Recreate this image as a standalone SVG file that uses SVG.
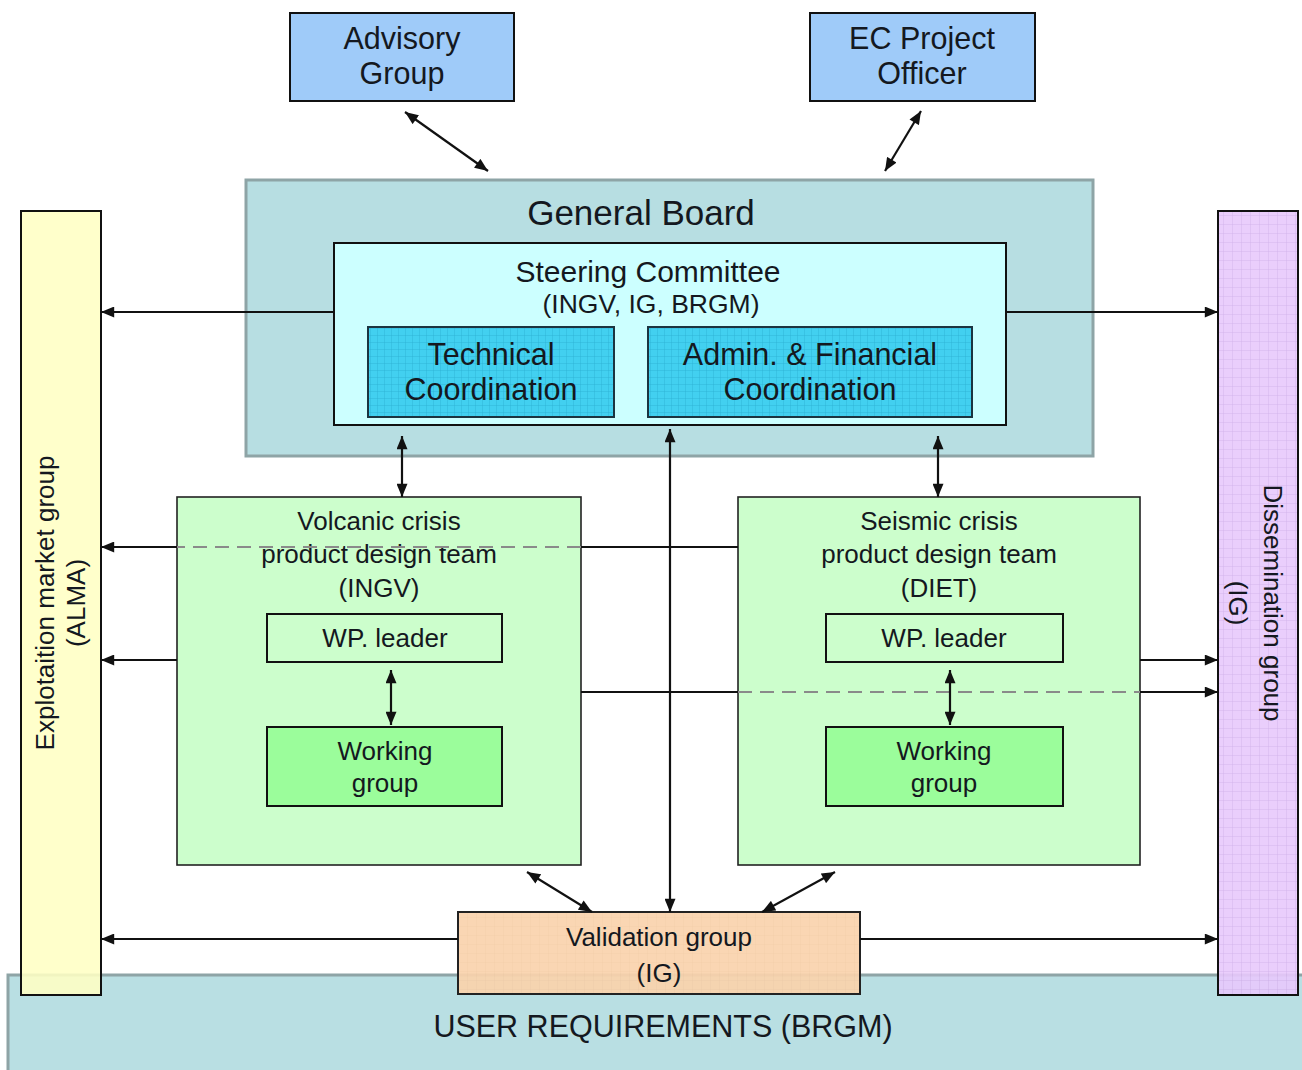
<svg xmlns="http://www.w3.org/2000/svg" width="1302" height="1070" viewBox="0 0 1302 1070">
<style>
text{font-family:"Liberation Sans",Arial,sans-serif;fill:#141820;text-anchor:middle}
.blk{stroke:#111;stroke-width:2}
.thin{stroke:#222;stroke-width:1.6}
.con{stroke:#111;stroke-width:2.2;fill:none}
.dash{stroke:#8a8a8a;stroke-width:2.2;stroke-dasharray:14 8;fill:none}
.t30{font-size:30.5px}.t26{font-size:26px}.t29{font-size:30px}
</style>
<defs>
<marker id="ah" viewBox="0 0 12 10" refX="12" refY="5" markerWidth="14" markerHeight="11" markerUnits="userSpaceOnUse" orient="auto-start-reverse"><path d="M0,0 L12,5 L0,10 z" fill="#111"/></marker>
<pattern id="gcyan" width="7" height="7" patternUnits="userSpaceOnUse"><rect width="7" height="7" fill="#42d0f0"/><path d="M7,0 V7 M0,7 H7" stroke="#2aaed0" stroke-width="0.8"/></pattern>
<pattern id="gpurp" width="9" height="9" patternUnits="userSpaceOnUse"><rect width="9" height="9" fill="#e8c9fc"/><path d="M9,0 V9 M0,9 H9" stroke="#caa6e6" stroke-width="0.8"/></pattern>
<pattern id="gpeach" width="9" height="9" patternUnits="userSpaceOnUse"><rect width="9" height="9" fill="#fad3ac"/><path d="M9,0 V9 M0,9 H9" stroke="#f0c49c" stroke-width="0.6"/></pattern>
</defs>

<g id="user-requirements">
<rect x="8" y="975" width="1300" height="100" fill="#b9dfe3" stroke="#8ea4a6" stroke-width="3"/>
<text x="663" y="1037" font-size="30.5">USER REQUIREMENTS (BRGM)</text>
</g>

<g id="advisory-group">
<rect x="290" y="13" width="224" height="88" fill="#9fcbf9" class="blk"/>
<text x="402" y="49" class="t30">Advisory</text>
<text x="402" y="84" class="t30">Group</text>
</g>

<g id="ec-project-officer">
<rect x="810" y="13" width="225" height="88" fill="#9fcbf9" class="blk"/>
<text x="922" y="49" class="t30">EC Project</text>
<text x="922" y="84" class="t30">Officer</text>
</g>

<g id="general-board">
<rect x="246" y="180" width="847" height="276" fill="#b7dee2" stroke="#8ea4a6" stroke-width="3"/>
<text x="641" y="225" font-size="35">General Board</text>
</g>

<g id="steering-committee">
<rect x="334" y="243" width="672" height="182" fill="#ccffff" class="blk"/>
<text x="648" y="282" class="t29">Steering Committee</text>
<text x="651" y="313" font-size="26.5">(INGV, IG, BRGM)</text>
</g>

<g id="technical-coordination">
<rect x="368" y="327" width="246" height="90" fill="url(#gcyan)" stroke="#1b3440" stroke-width="2"/>
<text x="491" y="365" class="t30">Technical</text>
<text x="491" y="400" class="t30">Coordination</text>
</g>

<g id="admin-financial-coordination">
<rect x="648" y="327" width="324" height="90" fill="url(#gcyan)" stroke="#1b3440" stroke-width="2"/>
<text x="810" y="365" class="t30">Admin. &amp; Financial</text>
<text x="810" y="400" class="t30">Coordination</text>
</g>

<g id="volcanic-team">
<rect x="177" y="497" width="404" height="368" fill="#ccfecc" class="thin"/>
<text x="379" y="530" class="t26">Volcanic crisis</text>
<text x="379" y="563" class="t26">product design team</text>
<text x="379" y="597" class="t26">(INGV)</text>
</g>
<g id="volcanic-wp-leader">
<rect x="267" y="614" width="235" height="48" fill="#ccfecc" class="blk"/>
<text x="385" y="647" class="t26">WP. leader</text>
</g>
<g id="volcanic-working-group">
<rect x="267" y="727" width="235" height="79" fill="#9bfd9b" class="blk"/>
<text x="385" y="760" class="t26">Working</text>
<text x="385" y="792" class="t26">group</text>
</g>

<g id="seismic-team">
<rect x="738" y="497" width="402" height="368" fill="#ccfecc" class="thin"/>
<text x="939" y="530" class="t26">Seismic crisis</text>
<text x="939" y="563" class="t26">product design team</text>
<text x="939" y="597" class="t26">(DIET)</text>
</g>
<g id="seismic-wp-leader">
<rect x="826" y="614" width="237" height="48" fill="#ccfecc" class="blk"/>
<text x="944" y="647" class="t26">WP. leader</text>
</g>
<g id="seismic-working-group">
<rect x="826" y="727" width="237" height="79" fill="#9bfd9b" class="blk"/>
<text x="944" y="760" class="t26">Working</text>
<text x="944" y="792" class="t26">group</text>
</g>

<g id="exploitation-market-group">
<rect x="21" y="211" width="80" height="784" fill="#ffffc4" fill-opacity="0.88" class="blk"/>
<text transform="translate(54,603) rotate(-90)" class="t26">Explotaition market group</text>
<text transform="translate(85,603) rotate(-90)" class="t26">(ALMA)</text>
</g>

<g id="dissemination-group">
<rect x="1218" y="211" width="80" height="784" fill="url(#gpurp)" fill-opacity="0.9" class="blk"/>
<text transform="translate(1264,603) rotate(90)" class="t26">Dissemination group</text>
<text transform="translate(1229,603) rotate(90)" class="t26">(IG)</text>
</g>

<g id="validation-group">
<rect x="458" y="912" width="402" height="82" fill="url(#gpeach)" fill-opacity="0.92" stroke="#222" stroke-width="2"/>
<text x="659" y="946" class="t26">Validation group</text>
<text x="659" y="982" class="t26">(IG)</text>
</g>

<g id="connectors">
<line x1="405" y1="112" x2="488" y2="171" class="con" marker-start="url(#ah)" marker-end="url(#ah)"/>
<line x1="921" y1="111" x2="885" y2="171" class="con" marker-start="url(#ah)" marker-end="url(#ah)"/>
<line x1="334" y1="312" x2="101" y2="312" class="con" marker-end="url(#ah)"/>
<line x1="1006" y1="312" x2="1218" y2="312" class="con" marker-end="url(#ah)"/>
<line x1="402" y1="436" x2="402" y2="497" class="con" marker-start="url(#ah)" marker-end="url(#ah)"/>
<line x1="938" y1="436" x2="938" y2="497" class="con" marker-start="url(#ah)" marker-end="url(#ah)"/>
<line x1="670" y1="429" x2="670" y2="912" class="con" marker-start="url(#ah)" marker-end="url(#ah)"/>
<line x1="738" y1="547" x2="581" y2="547" class="con"/>
<line x1="581" y1="547" x2="177" y2="547" class="dash"/>
<line x1="177" y1="547" x2="101" y2="547" class="con" marker-end="url(#ah)"/>
<line x1="177" y1="660" x2="101" y2="660" class="con" marker-end="url(#ah)"/>
<line x1="1140" y1="660" x2="1218" y2="660" class="con" marker-end="url(#ah)"/>
<line x1="581" y1="692" x2="738" y2="692" class="con"/>
<line x1="738" y1="692" x2="1140" y2="692" class="dash"/>
<line x1="1140" y1="692" x2="1218" y2="692" class="con" marker-end="url(#ah)"/>
<line x1="391" y1="670" x2="391" y2="725" class="con" marker-start="url(#ah)" marker-end="url(#ah)"/>
<line x1="950" y1="670" x2="950" y2="725" class="con" marker-start="url(#ah)" marker-end="url(#ah)"/>
<line x1="527" y1="872" x2="592" y2="912" class="con" marker-start="url(#ah)" marker-end="url(#ah)"/>
<line x1="835" y1="872" x2="762" y2="912" class="con" marker-start="url(#ah)" marker-end="url(#ah)"/>
<line x1="458" y1="939" x2="101" y2="939" class="con" marker-end="url(#ah)"/>
<line x1="860" y1="939" x2="1218" y2="939" class="con" marker-end="url(#ah)"/>
</g>
</svg>
